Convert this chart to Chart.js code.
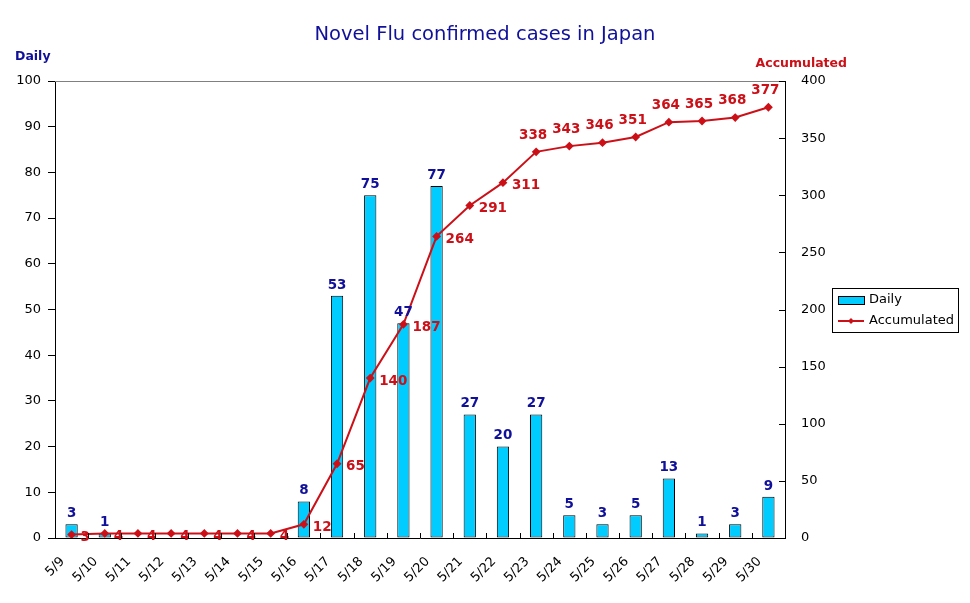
<!DOCTYPE html>
<html>
<head>
<meta charset="utf-8">
<title>Novel Flu confirmed cases in Japan</title>
<script src="https://cdn.jsdelivr.net/npm/chart.js@4.4.1/dist/chart.umd.min.js"></script>
<style>
  html, body { margin: 0; padding: 0; background: #fff; }
  #wrap { width: 970px; height: 603px; }
</style>
</head>
<body>
<div id="wrap"><canvas id="fluChart" width="970" height="603"></canvas></div>
<script>
// Values
const dates = ['5/9', '5/10', '5/11', '5/12', '5/13', '5/14', '5/15', '5/16', '5/17', '5/18', '5/19',
               '5/20', '5/21', '5/22', '5/23', '5/24', '5/25', '5/26', '5/27', '5/28', '5/29', '5/30'];
const dailyCases = [3, 1, 0, 0, 0, 0, 0, 8, 53, 75, 47, 77, 27, 20, 27, 5, 3, 5, 13, 1, 3, 9];
const accumulatedCases = [3, 4, 4, 4, 4, 4, 4, 12, 65, 140, 187, 264, 291, 311, 338, 343, 346, 351, 364, 365, 368, 377];
const dailyTicks = [0, 10, 20, 30, 40, 50, 60, 70, 80, 90, 100];
const accumulatedTicks = [0, 50, 100, 150, 200, 250, 300, 350, 400];

const FONT = '"DejaVu Sans", sans-serif';
const NAVY = '#10109a';
const RED = '#cc1018';
const CYAN = '#00ccff';

/**
 * Value labels above bars and beside line points
 */
const valueLabels = {
    id: 'valueLabels',
    afterDatasetsDraw(chart) {
        const ctx = chart.ctx;
        ctx.save();
        ctx.font = 'bold 13.5px ' + FONT;

        // Daily values above the bars
        ctx.fillStyle = NAVY;
        ctx.textAlign = 'center';
        ctx.textBaseline = 'bottom';
        chart.getDatasetMeta(1).data.forEach((bar, i) => {
            if (!dailyCases[i]) return;
            ctx.fillText(dailyCases[i], bar.x, bar.y - 4);
        });

        // Accumulated values: right of the point while climbing, above once it flattens
        ctx.fillStyle = RED;
        chart.getDatasetMeta(0).data.forEach((pt, i) => {
            if (i >= 14) {
                ctx.textAlign = 'center';
                ctx.textBaseline = 'bottom';
                ctx.fillText(accumulatedCases[i], pt.x - 3, pt.y - 10);
            } else {
                ctx.textAlign = 'left';
                ctx.textBaseline = 'middle';
                ctx.fillText(accumulatedCases[i], pt.x + 9, pt.y + 3);
            }
        });
        ctx.restore();
    }
};

/**
 * Titles, plot frame details and the boxed legend
 */
const decorations = {
    id: 'decorations',
    afterDraw(chart) {
        const ctx = chart.ctx;
        const area = chart.chartArea;
        ctx.save();

        // Titles
        ctx.fillStyle = NAVY;
        ctx.font = '19.5px ' + FONT;
        ctx.textAlign = 'center';
        ctx.textBaseline = 'middle';
        ctx.fillText('Novel Flu confirmed cases in Japan', 485, 35);

        ctx.font = 'bold 12.5px ' + FONT;
        ctx.textAlign = 'left';
        ctx.fillText('Daily', 15, 57);
        ctx.fillStyle = RED;
        ctx.textAlign = 'right';
        ctx.fillText('Accumulated', 847, 64);

        // Grey top edge of the plot area
        ctx.strokeStyle = '#808080';
        ctx.lineWidth = 1;
        ctx.beginPath();
        ctx.moveTo(area.left, area.top + 0.5);
        ctx.lineTo(area.right, area.top + 0.5);
        ctx.stroke();

        // Inward ticks on the category axis and the right axis
        ctx.strokeStyle = '#000';
        ctx.beginPath();
        const xs = chart.scales.x;
        for (let i = 1; i < dates.length; i++) {
            const x = Math.round((xs.getPixelForValue(i - 1) + xs.getPixelForValue(i)) / 2) + 0.5;
            ctx.moveTo(x, area.bottom);
            ctx.lineTo(x, area.bottom - 5);
        }
        const ys = chart.scales.y1;
        accumulatedTicks.forEach(v => {
            const y = Math.round(ys.getPixelForValue(v)) + 0.5;
            ctx.moveTo(area.right, y);
            ctx.lineTo(area.right - 6, y);
        });
        ctx.stroke();

        // Legend box
        const lx = 832, ly = 288, lw = 126, lh = 44;
        ctx.fillStyle = '#fff';
        ctx.fillRect(lx, ly, lw, lh);
        ctx.strokeStyle = '#000';
        ctx.strokeRect(lx + 0.5, ly + 0.5, lw, lh);

        ctx.fillStyle = CYAN;
        ctx.fillRect(lx + 6, ly + 8, 26, 8);
        ctx.strokeRect(lx + 6.5, ly + 8.5, 26, 8);

        ctx.strokeStyle = RED;
        ctx.lineWidth = 2;
        ctx.beginPath();
        ctx.moveTo(lx + 6, ly + 33);
        ctx.lineTo(lx + 32, ly + 33);
        ctx.stroke();
        ctx.fillStyle = RED;
        ctx.beginPath();
        ctx.moveTo(lx + 19, ly + 30);
        ctx.lineTo(lx + 22, ly + 33);
        ctx.lineTo(lx + 19, ly + 36);
        ctx.lineTo(lx + 16, ly + 33);
        ctx.closePath();
        ctx.fill();

        ctx.fillStyle = '#000';
        ctx.font = '13px ' + FONT;
        ctx.textAlign = 'left';
        ctx.textBaseline = 'middle';
        ctx.fillText('Daily', lx + 37, ly + 12);
        ctx.fillText('Accumulated', lx + 37, ly + 33);

        ctx.restore();
    }
};

const ctx = document.getElementById('fluChart').getContext('2d');
new Chart(ctx, {
    type: 'bar',
    data: {
        labels: dates,
        datasets: [{
            type: 'line',
            label: 'Accumulated',
            data: accumulatedCases,
            yAxisID: 'y1',
            borderColor: RED,
            borderWidth: 2,
            backgroundColor: RED,
            pointStyle: 'rectRot',
            pointRadius: 3,
            pointBackgroundColor: RED,
            pointBorderColor: RED,
            tension: 0,
            order: 0
        }, {
            type: 'bar',
            label: 'Daily',
            data: dailyCases,
            yAxisID: 'y',
            backgroundColor: CYAN,
            borderColor: '#000',
            borderWidth: 1,
            borderSkipped: false,
            barPercentage: 0.37,
            categoryPercentage: 1,
            order: 1
        }]
    },
    options: {
        responsive: false,
        animation: false,
        layout: { padding: { top: 81, left: 0, right: 0, bottom: 0 } },
        plugins: {
            legend: { display: false },
            tooltip: { enabled: false }
        },
        scales: {
            x: {
                grid: { display: false },
                border: { color: '#000', width: 1 },
                ticks: {
                    autoSkip: false,
                    minRotation: 45,
                    maxRotation: 45,
                    labelOffset: -9,
                    padding: 8,
                    color: '#000',
                    font: { family: FONT, size: 13 }
                },
                afterFit(scale) { scale.height = 65; }
            },
            y: {
                position: 'left',
                min: 0,
                max: 100,
                afterBuildTicks(scale) { scale.ticks = dailyTicks.map(v => ({ value: v })); },
                ticks: { color: '#000', padding: 7, font: { family: FONT, size: 13 } },
                grid: { drawOnChartArea: false, tickLength: 7, color: '#000' },
                border: { color: '#000', width: 1 },
                afterFit(scale) { scale.width = 55; }
            },
            y1: {
                position: 'right',
                min: 0,
                max: 400,
                afterBuildTicks(scale) { scale.ticks = accumulatedTicks.map(v => ({ value: v })); },
                ticks: { color: '#000', padding: 8, font: { family: FONT, size: 13 } },
                grid: { display: false },
                border: { color: '#000', width: 1 },
                afterFit(scale) { scale.width = 185; }
            }
        }
    },
    plugins: [valueLabels, decorations]
});
</script>
</body>
</html>
